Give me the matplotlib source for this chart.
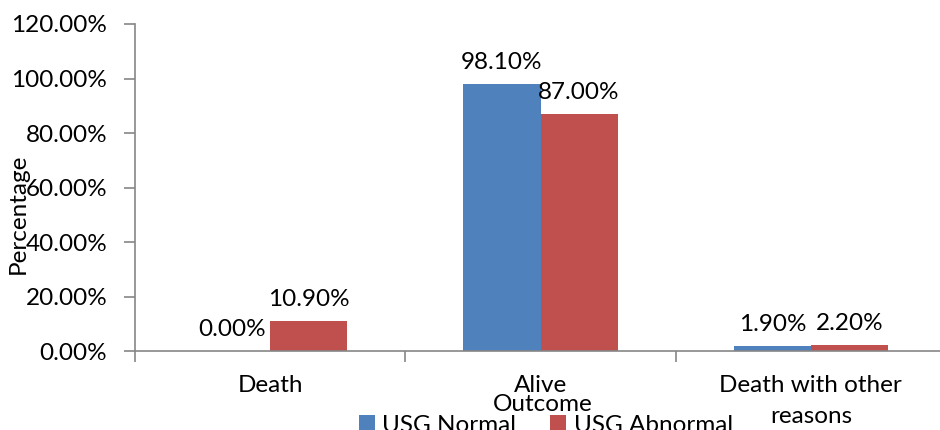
import matplotlib
matplotlib.use("Agg")
import matplotlib.pyplot as plt
from matplotlib.ticker import FuncFormatter, FixedLocator

plt.rcParams['font.family'] = ['Lato', 'DejaVu Sans']

categories = ['Death', 'Alive', 'Death with other\nreasons']
series_names = ['USG Normal', 'USG Abnormal']
usg_normal = [0.0, 98.10, 1.90]
usg_abnormal = [10.90, 87.00, 2.20]
y_ticks = [0, 20, 40, 60, 80, 100, 120]

blue = '#4F81BD'
red = '#C0504D'
grey = '#868686'
fs = 17.5

fig = plt.figure(figsize=(9.4, 4.3), dpi=100)
ax = fig.add_axes([135 / 940, 1 - 351 / 430, 811 / 940, 327 / 430])

x = range(len(categories))
w = 0.285
b1 = ax.bar([i - w / 2 for i in x], usg_normal, w, color=blue, label=series_names[0])
b2 = ax.bar([i + w / 2 for i in x], usg_abnormal, w, color=red, label=series_names[1])

# value labels above each bar
for bars, vals in [(b1, usg_normal), (b2, usg_abnormal)]:
    for r, v in zip(bars, vals):
        ax.annotate(f'{v:.2f}%', (r.get_x() + r.get_width() / 2, v),
                    xytext=(0, 8), textcoords='offset points',
                    ha='center', va='bottom', fontsize=fs)

ax.set_xlim(-0.5, 2.5)
ax.set_ylim(0, 120)
ax.set_yticks(y_ticks)
ax.yaxis.set_major_formatter(FuncFormatter(lambda v, p: f'{v:.2f}%'))
ax.set_xticks(list(x))
ax.set_xticklabels(categories, linespacing=1.6)
ax.xaxis.set_minor_locator(FixedLocator([-0.5, 0.5, 1.5, 2.5]))
ax.tick_params(axis='x', which='major', length=0, pad=17, labelsize=fs)
ax.tick_params(axis='x', which='minor', length=8, color=grey, width=1.2)
ax.tick_params(axis='y', length=8, color=grey, width=1.2, pad=12, labelsize=fs)

for s in ['top', 'right']:
    ax.spines[s].set_visible(False)
for s in ['left', 'bottom']:
    ax.spines[s].set_color(grey)
    ax.spines[s].set_linewidth(1.2)

ax.set_ylabel('Percentage', fontsize=fs)
ax.yaxis.label.set_rotation_mode('default')
ax.yaxis.label.set_va('center')
ax.yaxis.set_label_coords(-0.144, 0.419)
ax.set_xlabel('Outcome', fontsize=fs)
ax.xaxis.label.set_va('center')
ax.xaxis.set_label_coords(0.503, -0.165)

fig.legend(loc='center', bbox_to_anchor=(546 / 940, 1 - 425 / 430), ncol=2,
           frameon=False, fontsize=fs, handlelength=0.65, handleheight=0.65,
           handletextpad=0.3, columnspacing=1.4, borderaxespad=0)

fig.savefig('out.png', dpi=100)
